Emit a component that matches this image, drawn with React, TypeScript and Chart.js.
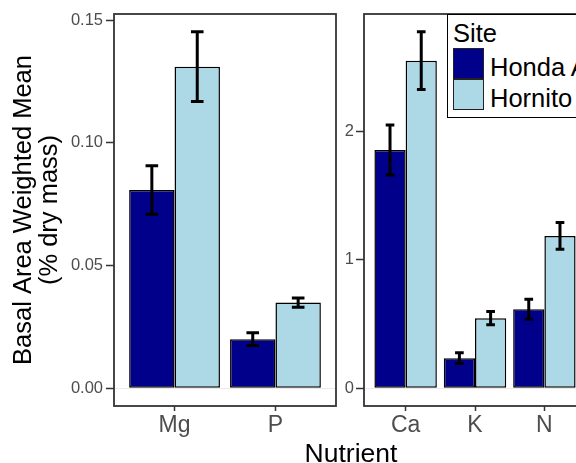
import React, { useEffect, useRef } from "react";
import { Chart, registerables } from "chart.js";
Chart.register(...registerables);

const FONT = "'Liberation Sans', Arial, Helvetica, sans-serif";

const sites = ["Honda A", "Hornito"];
const siteColors = ["#00008B", "#ADD8E6"];

const leftCategories = ["Mg", "P"];
const leftHondaMean = [0.0808, 0.02];
const leftHondaSE = [0.0099, 0.0026];
const leftHornitoMean = [0.1311, 0.0349];
const leftHornitoSE = [0.0142, 0.0019];
const leftTicks = [0, 0.05, 0.1, 0.15];
const leftTickLabels = ["0.00", "0.05", "0.10", "0.15"];

const rightCategories = ["Ca", "K", "N"];
const rightHondaMean = [1.857, 0.234, 0.616];
const rightHondaSE = [0.195, 0.042, 0.078];
const rightHornitoMean = [2.553, 0.546, 1.187];
const rightHornitoSE = [0.225, 0.051, 0.104];
const rightTicks = [0, 1, 2];
const rightTickLabels = ["0", "1", "2"];

const yTitle = ["Basal Area Weighted Mean", "(% dry mass)"];
const xTitle = "Nutrient";
const legendTitle = "Site";

type PanelCfg = {
  categories: string[];
  means: number[][];
  ses: number[][];
  ticks: number[];
  tickLabels: string[];
  yAxisWidth: number;
  padRight: number;
  tickPadding: number;
  title?: string[];
};

function makePanel(canvas: HTMLCanvasElement, cfg: PanelCfg) {
  let maxV = 0;
  cfg.means.forEach((arr, i) =>
    arr.forEach((m, j) => {
      maxV = Math.max(maxV, m + cfg.ses[i][j]);
    })
  );
  const yMin = -0.05 * maxV;
  const yMax = 1.05 * maxV;
  const n = cfg.categories.length;

  const errorBars = {
    id: "errorBars",
    afterDatasetsDraw(chart: any) {
      const ctx = chart.ctx;
      const xs = chart.scales.x;
      const ys = chart.scales.y;
      const half = Math.abs(xs.getPixelForValue(1.0625) - xs.getPixelForValue(1));
      ctx.save();
      ctx.strokeStyle = "#000";
      ctx.lineWidth = 3;
      ctx.lineCap = "butt";
      chart.data.datasets.forEach((ds: any, i: number) => {
        const meta = chart.getDatasetMeta(i);
        meta.data.forEach((el: any, j: number) => {
          const m = ds.data[j].y;
          const s = cfg.ses[i][j];
          const yh = ys.getPixelForValue(m + s);
          const yl = ys.getPixelForValue(m - s);
          ctx.beginPath();
          ctx.moveTo(el.x, yh);
          ctx.lineTo(el.x, yl);
          ctx.moveTo(el.x - half, yh);
          ctx.lineTo(el.x + half, yh);
          ctx.moveTo(el.x - half, yl);
          ctx.lineTo(el.x + half, yl);
          ctx.stroke();
        });
      });
      ctx.restore();
    },
  };

  const panelBorder = {
    id: "panelBorder",
    afterDraw(chart: any) {
      const { left, top, right, bottom } = chart.chartArea;
      const ctx = chart.ctx;
      ctx.save();
      ctx.strokeStyle = "#333333";
      ctx.lineWidth = 1.8;
      ctx.strokeRect(left, top, right - left, bottom - top);
      ctx.restore();
    },
  };

  return new Chart(canvas, {
    type: "bar",
    data: {
      datasets: cfg.means.map((arr, i) => ({
        label: sites[i],
        data: arr.map((v, j) => ({ x: j + 1, y: v })),
        backgroundColor: siteColors[i],
        borderColor: "#000",
        borderWidth: 1.5,
        borderSkipped: false,
        categoryPercentage: 0.9,
        barPercentage: 1.0,
      })),
    },
    options: {
      responsive: false,
      animation: false,
      events: [],
      layout: { padding: { left: 0, right: cfg.padRight, top: 14, bottom: 0 } },
      plugins: { legend: { display: false }, tooltip: { enabled: false } },
      scales: {
        x: {
          type: "linear",
          offset: false,
          min: 0.4,
          max: n + 0.6,
          afterBuildTicks: (scale: any) => {
            scale.ticks = cfg.categories.map((_, i) => ({ value: i + 1 }));
          },
          afterFit: (scale: any) => {
            scale.height = 57;
          },
          ticks: {
            autoSkip: false,
            padding: 0.5,
            color: "#4d4d4d",
            font: { family: FONT, size: 23 },
            callback: (v: any) => cfg.categories[Math.round(v) - 1] ?? "",
          },
          grid: {
            offset: false,
            drawOnChartArea: false,
            drawTicks: true,
            tickLength: 5,
            tickColor: "#333333",
            tickWidth: 1.5,
          },
          border: { display: false },
        },
        y: {
          type: "linear",
          min: yMin,
          max: yMax,
          afterBuildTicks: (scale: any) => {
            scale.ticks = cfg.ticks.map((v) => ({ value: v }));
          },
          afterFit: (scale: any) => {
            scale.width = cfg.yAxisWidth;
          },
          ticks: {
            padding: cfg.tickPadding,
            color: "#4d4d4d",
            font: { family: FONT, size: 16.5 },
            callback: (v: any) => {
              const k = cfg.ticks.findIndex((t) => Math.abs(t - v) < 1e-9);
              return k >= 0 ? cfg.tickLabels[k] : "";
            },
          },
          grid: {
            drawOnChartArea: true,
            drawTicks: true,
            tickLength: 8,
            tickColor: "#333333",
            tickWidth: 1.5,
            lineWidth: 1,
            color: (c: any) => (c.tick && Math.abs(c.tick.value) < 1e-12 ? "#ebebeb" : "rgba(0,0,0,0)"),
          },
          border: { display: false },
          title: cfg.title
            ? {
                display: true,
                text: cfg.title,
                color: "#000",
                font: { family: FONT, size: 25.5, lineHeight: 1.02 },
                padding: { top: 11, bottom: 0 },
              }
            : { display: false },
        },
      },
    },
    plugins: [errorBars, panelBorder],
  } as any);
}

export default function App() {
  const leftRef = useRef<HTMLCanvasElement>(null);
  const rightRef = useRef<HTMLCanvasElement>(null);

  useEffect(() => {
    const left = makePanel(leftRef.current!, {
      categories: leftCategories,
      means: [leftHondaMean, leftHornitoMean],
      ses: [leftHondaSE, leftHornitoSE],
      ticks: leftTicks,
      tickLabels: leftTickLabels,
      yAxisWidth: 114,
      padRight: 4,
      tickPadding: 3,
      title: yTitle,
    });
    const right = makePanel(rightRef.current!, {
      categories: rightCategories,
      means: [rightHondaMean, rightHornitoMean],
      ses: [rightHondaSE, rightHornitoSE],
      ticks: rightTicks,
      tickLabels: rightTickLabels,
      yAxisWidth: 24,
      padRight: 10,
      tickPadding: 2,
    });
    return () => {
      left.destroy();
      right.destroy();
    };
  }, []);

  const textBase: React.CSSProperties = {
    position: "absolute",
    fontFamily: FONT,
    whiteSpace: "nowrap",
    color: "#000",
    margin: 0,
  };

  return (
    <div
      style={{
        position: "fixed",
        left: 0,
        top: 0,
        width: 576,
        height: 463,
        overflow: "hidden",
        background: "#fff",
      }}
    >
      <canvas ref={leftRef} width={340} height={463} style={{ position: "absolute", left: 0, top: 0 }} />
      <canvas ref={rightRef} width={256} height={463} style={{ position: "absolute", left: 340, top: 0 }} />
      <div
        style={{
          position: "absolute",
          left: 446.5,
          top: 13.5,
          width: 170,
          height: 104,
          border: "1.5px solid #000",
          boxSizing: "border-box",
          background: "#fff",
        }}
      />
      <div style={{ ...textBase, left: 453, top: 20.5, fontSize: 25.5, lineHeight: "25px" }}>{legendTitle}</div>
      {sites.map((s, i) => (
        <React.Fragment key={s}>
          <div
            style={{
              position: "absolute",
              left: 453,
              top: 48 + i * 31,
              width: 31,
              height: 31,
              border: "1.5px solid #222",
              boxSizing: "border-box",
              background: siteColors[i],
            }}
          />
          <div style={{ ...textBase, left: 490, top: 55 + i * 31, fontSize: 25.5, lineHeight: "25px" }}>{s}</div>
        </React.Fragment>
      ))}
      <div
        style={{
          ...textBase,
          left: 351,
          top: 439.5,
          transform: "translateX(-50%)",
          fontSize: 26.5,
          lineHeight: "26px",
        }}
      >
        {xTitle}
      </div>
    </div>
  );
}
